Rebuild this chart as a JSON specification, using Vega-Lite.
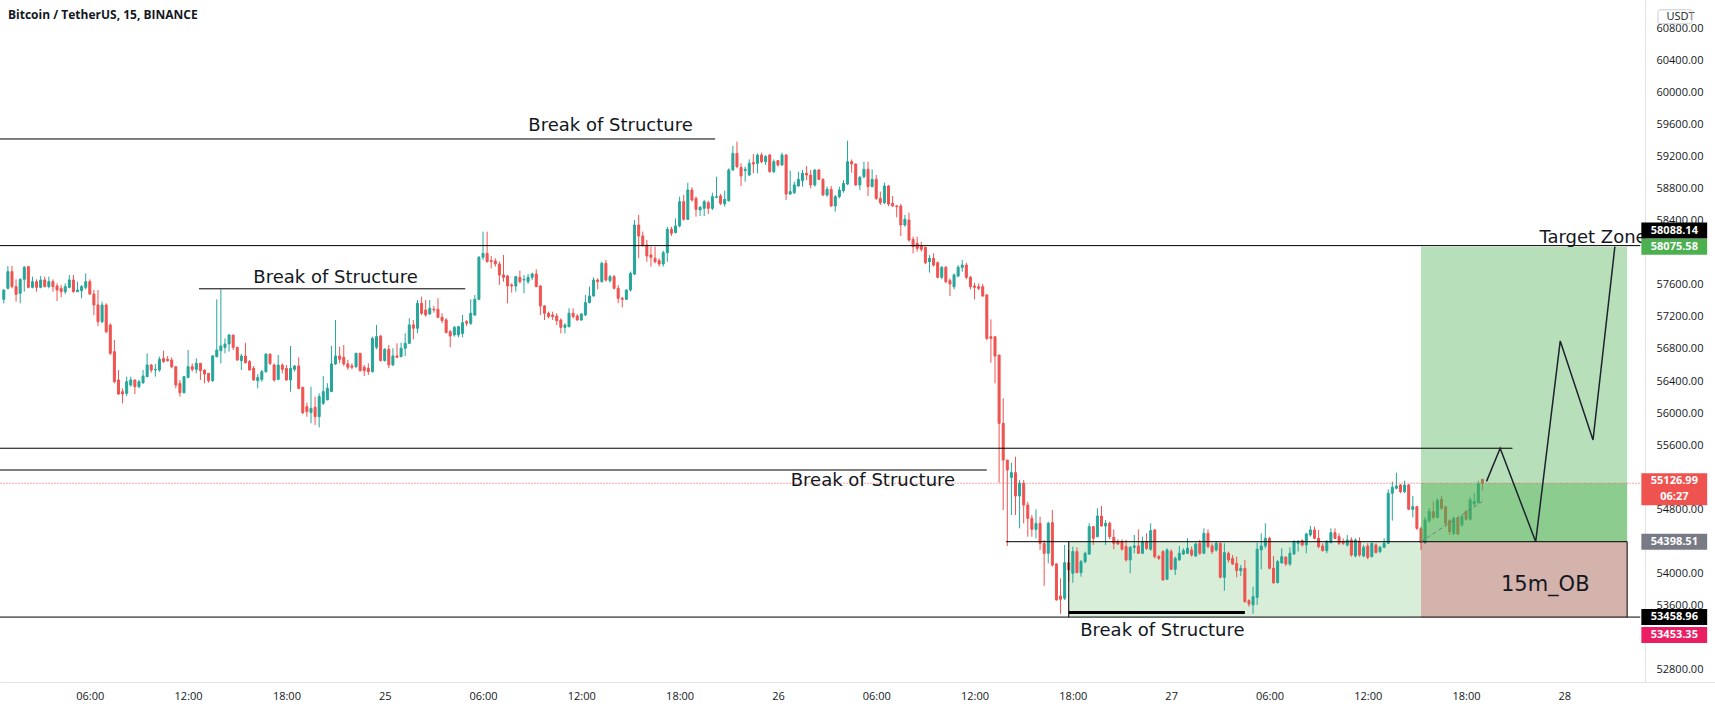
{
"$schema": "https://vega.github.io/schema/vega-lite/v6.json",
"width": 1715, "height": 682, "autosize": "none",
"padding": {"left": 0, "top": 0, "right": 0, "bottom": 30},
"background": "#ffffff",
"config": {"view": {"stroke": null}},
"title": {"text": "Bitcoin / TetherUS, 15, BINANCE", "anchor": "start", "frame": "group", "offset": -22, "dx": 8, "font": "Open Sans", "fontSize": 12, "fontWeight": "bold", "color": "#131722"},
"datasets": {
"candles": [
{"t":"2021-11-24 00:45","o":57419,"h":57543,"l":57369,"c":57535},
{"t":"2021-11-24 01:00","o":57556,"h":57834,"l":57543,"c":57764},
{"t":"2021-11-24 01:15","o":57764,"h":57834,"l":57556,"c":57577},
{"t":"2021-11-24 01:30","o":57577,"h":57668,"l":57390,"c":57481},
{"t":"2021-11-24 01:45","o":57494,"h":57680,"l":57369,"c":57668},
{"t":"2021-11-24 02:00","o":57668,"h":57834,"l":57514,"c":57817},
{"t":"2021-11-24 02:15","o":57826,"h":57834,"l":57556,"c":57568},
{"t":"2021-11-24 02:30","o":57568,"h":57701,"l":57556,"c":57639},
{"t":"2021-11-24 02:45","o":57639,"h":57668,"l":57514,"c":57568},
{"t":"2021-11-24 03:00","o":57568,"h":57709,"l":57556,"c":57660},
{"t":"2021-11-24 03:15","o":57660,"h":57701,"l":57568,"c":57577},
{"t":"2021-11-24 03:30","o":57577,"h":57701,"l":57556,"c":57639},
{"t":"2021-11-24 03:45","o":57639,"h":57668,"l":57514,"c":57577},
{"t":"2021-11-24 04:00","o":57585,"h":57618,"l":57398,"c":57535},
{"t":"2021-11-24 04:15","o":57556,"h":57597,"l":57444,"c":57514},
{"t":"2021-11-24 04:30","o":57514,"h":57618,"l":57485,"c":57577},
{"t":"2021-11-24 04:45","o":57568,"h":57722,"l":57556,"c":57660},
{"t":"2021-11-24 05:00","o":57660,"h":57722,"l":57502,"c":57514},
{"t":"2021-11-24 05:15","o":57514,"h":57639,"l":57514,"c":57535},
{"t":"2021-11-24 05:30","o":57527,"h":57597,"l":57431,"c":57577},
{"t":"2021-11-24 05:45","o":57568,"h":57743,"l":57543,"c":57639},
{"t":"2021-11-24 06:00","o":57639,"h":57668,"l":57473,"c":57485},
{"t":"2021-11-24 06:15","o":57485,"h":57535,"l":57223,"c":57348},
{"t":"2021-11-24 06:30","o":57348,"h":57535,"l":57086,"c":57140},
{"t":"2021-11-24 06:45","o":57140,"h":57390,"l":57120,"c":57348},
{"t":"2021-11-24 07:00","o":57348,"h":57369,"l":56995,"c":57016},
{"t":"2021-11-24 07:15","o":57099,"h":57120,"l":56725,"c":56746},
{"t":"2021-11-24 07:30","o":56766,"h":56912,"l":56372,"c":56393},
{"t":"2021-11-24 07:45","o":56414,"h":56538,"l":56227,"c":56239},
{"t":"2021-11-24 08:00","o":56268,"h":56310,"l":56123,"c":56239},
{"t":"2021-11-24 08:15","o":56247,"h":56455,"l":56214,"c":56393},
{"t":"2021-11-24 08:30","o":56351,"h":56455,"l":56330,"c":56414},
{"t":"2021-11-24 08:45","o":56414,"h":56414,"l":56239,"c":56330},
{"t":"2021-11-24 09:00","o":56330,"h":56414,"l":56310,"c":56393},
{"t":"2021-11-24 09:15","o":56380,"h":56538,"l":56364,"c":56463},
{"t":"2021-11-24 09:30","o":56455,"h":56746,"l":56447,"c":56600},
{"t":"2021-11-24 09:45","o":56600,"h":56613,"l":56505,"c":56538},
{"t":"2021-11-24 10:00","o":56538,"h":56613,"l":56455,"c":56546},
{"t":"2021-11-24 10:15","o":56538,"h":56704,"l":56517,"c":56671},
{"t":"2021-11-24 10:30","o":56683,"h":56779,"l":56629,"c":56642},
{"t":"2021-11-24 10:45","o":56671,"h":56712,"l":56642,"c":56654},
{"t":"2021-11-24 11:00","o":56662,"h":56696,"l":56559,"c":56579},
{"t":"2021-11-24 11:15","o":56579,"h":56579,"l":56309,"c":56351},
{"t":"2021-11-24 11:30","o":56372,"h":56413,"l":56206,"c":56255},
{"t":"2021-11-24 11:45","o":56255,"h":56463,"l":56247,"c":56455},
{"t":"2021-11-24 12:00","o":56446,"h":56787,"l":56434,"c":56579},
{"t":"2021-11-24 12:15","o":56579,"h":56621,"l":56517,"c":56546},
{"t":"2021-11-24 12:30","o":56546,"h":56683,"l":56496,"c":56621},
{"t":"2021-11-24 12:45","o":56621,"h":56621,"l":56413,"c":56530},
{"t":"2021-11-24 13:00","o":56538,"h":56546,"l":56372,"c":56488},
{"t":"2021-11-24 13:15","o":56496,"h":56496,"l":56380,"c":56405},
{"t":"2021-11-24 13:30","o":56405,"h":56725,"l":56392,"c":56712},
{"t":"2021-11-24 13:45","o":56704,"h":57418,"l":56696,"c":56787},
{"t":"2021-11-24 14:00","o":56779,"h":57543,"l":56621,"c":56837},
{"t":"2021-11-24 14:15","o":56820,"h":56932,"l":56746,"c":56862},
{"t":"2021-11-24 14:30","o":56862,"h":56986,"l":56766,"c":56974},
{"t":"2021-11-24 14:45","o":56974,"h":56974,"l":56787,"c":56820},
{"t":"2021-11-24 15:00","o":56820,"h":56829,"l":56654,"c":56662},
{"t":"2021-11-24 15:15","o":56654,"h":56737,"l":56538,"c":56712},
{"t":"2021-11-24 15:30","o":56712,"h":56878,"l":56621,"c":56629},
{"t":"2021-11-24 15:45","o":56642,"h":56662,"l":56530,"c":56538},
{"t":"2021-11-24 16:00","o":56559,"h":56588,"l":56405,"c":56413},
{"t":"2021-11-24 16:15","o":56405,"h":56488,"l":56309,"c":56446},
{"t":"2021-11-24 16:30","o":56421,"h":56538,"l":56392,"c":56517},
{"t":"2021-11-24 16:45","o":56517,"h":56746,"l":56505,"c":56737},
{"t":"2021-11-24 17:00","o":56737,"h":56737,"l":56600,"c":56621},
{"t":"2021-11-24 17:15","o":56600,"h":56621,"l":56392,"c":56413},
{"t":"2021-11-24 17:30","o":56421,"h":56725,"l":56413,"c":56600},
{"t":"2021-11-24 17:45","o":56600,"h":56621,"l":56496,"c":56546},
{"t":"2021-11-24 18:00","o":56559,"h":56600,"l":56405,"c":56413},
{"t":"2021-11-24 18:15","o":56413,"h":56837,"l":56268,"c":56559},
{"t":"2021-11-24 18:30","o":56546,"h":56600,"l":56517,"c":56588},
{"t":"2021-11-24 18:45","o":56588,"h":56696,"l":56297,"c":56309},
{"t":"2021-11-24 19:00","o":56322,"h":56330,"l":55989,"c":56006},
{"t":"2021-11-24 19:15","o":56081,"h":56131,"l":55956,"c":56019},
{"t":"2021-11-24 19:30","o":56007,"h":56331,"l":55874,"c":56061},
{"t":"2021-11-24 19:45","o":56074,"h":56206,"l":55853,"c":55957},
{"t":"2021-11-24 20:00","o":55957,"h":56248,"l":55824,"c":56206},
{"t":"2021-11-24 20:15","o":56123,"h":56464,"l":56103,"c":56269},
{"t":"2021-11-24 20:30","o":56165,"h":56373,"l":56165,"c":56310},
{"t":"2021-11-24 20:45","o":56269,"h":56838,"l":56269,"c":56614},
{"t":"2021-11-24 21:00","o":56614,"h":57162,"l":56601,"c":56713},
{"t":"2021-11-24 21:15","o":56713,"h":56829,"l":56622,"c":56672},
{"t":"2021-11-24 21:30","o":56697,"h":56850,"l":56589,"c":56614},
{"t":"2021-11-24 21:45","o":56614,"h":56664,"l":56539,"c":56572},
{"t":"2021-11-24 22:00","o":56589,"h":56622,"l":56547,"c":56572},
{"t":"2021-11-24 22:15","o":56580,"h":56755,"l":56560,"c":56746},
{"t":"2021-11-24 22:30","o":56746,"h":56746,"l":56518,"c":56530},
{"t":"2021-11-24 22:45","o":56572,"h":56601,"l":56464,"c":56530},
{"t":"2021-11-24 23:00","o":56560,"h":56622,"l":56477,"c":56518},
{"t":"2021-11-24 23:15","o":56518,"h":56954,"l":56506,"c":56933},
{"t":"2021-11-24 23:30","o":56821,"h":57100,"l":56796,"c":56954},
{"t":"2021-11-24 23:45","o":56962,"h":56975,"l":56643,"c":56655},
{"t":"2021-11-25 00:00","o":56655,"h":56809,"l":56643,"c":56796},
{"t":"2021-11-25 00:15","o":56796,"h":56850,"l":56560,"c":56601},
{"t":"2021-11-25 00:30","o":56601,"h":56809,"l":56589,"c":56713},
{"t":"2021-11-25 00:45","o":56713,"h":56871,"l":56684,"c":56697},
{"t":"2021-11-25 01:00","o":56705,"h":56879,"l":56697,"c":56809},
{"t":"2021-11-25 01:15","o":56809,"h":56996,"l":56713,"c":56871},
{"t":"2021-11-25 01:30","o":56871,"h":57183,"l":56863,"c":57100},
{"t":"2021-11-25 01:45","o":57100,"h":57162,"l":56921,"c":57058},
{"t":"2021-11-25 02:00","o":57058,"h":57411,"l":56996,"c":57370},
{"t":"2021-11-25 02:15","o":57370,"h":57453,"l":57224,"c":57245},
{"t":"2021-11-25 02:30","o":57286,"h":57411,"l":57203,"c":57224},
{"t":"2021-11-25 02:45","o":57237,"h":57411,"l":57224,"c":57307},
{"t":"2021-11-25 03:00","o":57295,"h":57336,"l":57253,"c":57286},
{"t":"2021-11-25 03:15","o":57295,"h":57432,"l":57183,"c":57195},
{"t":"2021-11-25 03:30","o":57195,"h":57245,"l":57120,"c":57154},
{"t":"2021-11-25 03:45","o":57162,"h":57183,"l":56996,"c":57004},
{"t":"2021-11-25 04:00","o":57016,"h":57037,"l":56821,"c":56962},
{"t":"2021-11-25 04:15","o":56975,"h":57087,"l":56954,"c":57070},
{"t":"2021-11-25 04:30","o":56975,"h":57087,"l":56946,"c":57078},
{"t":"2021-11-25 04:45","o":56995,"h":57224,"l":56946,"c":57128},
{"t":"2021-11-25 05:00","o":57141,"h":57161,"l":57087,"c":57120},
{"t":"2021-11-25 05:15","o":57120,"h":57419,"l":57099,"c":57245},
{"t":"2021-11-25 05:30","o":57224,"h":57473,"l":57211,"c":57419},
{"t":"2021-11-25 05:45","o":57419,"h":57959,"l":57411,"c":57943},
{"t":"2021-11-25 06:00","o":57943,"h":58262,"l":57909,"c":57992},
{"t":"2021-11-25 06:15","o":57992,"h":58262,"l":57876,"c":57889},
{"t":"2021-11-25 06:30","o":57901,"h":57959,"l":57805,"c":57889},
{"t":"2021-11-25 06:45","o":57897,"h":57930,"l":57826,"c":57859},
{"t":"2021-11-25 07:00","o":57859,"h":57889,"l":57598,"c":57722},
{"t":"2021-11-25 07:15","o":57722,"h":57972,"l":57639,"c":57693},
{"t":"2021-11-25 07:30","o":57710,"h":57722,"l":57369,"c":57585},
{"t":"2021-11-25 07:45","o":57598,"h":57618,"l":57502,"c":57585},
{"t":"2021-11-25 08:00","o":57585,"h":57710,"l":57515,"c":57702},
{"t":"2021-11-25 08:15","o":57693,"h":57776,"l":57618,"c":57639},
{"t":"2021-11-25 08:30","o":57660,"h":57722,"l":57494,"c":57668},
{"t":"2021-11-25 08:45","o":57639,"h":57735,"l":57610,"c":57693},
{"t":"2021-11-25 09:00","o":57693,"h":57751,"l":57660,"c":57735},
{"t":"2021-11-25 09:15","o":57735,"h":57793,"l":57569,"c":57577},
{"t":"2021-11-25 09:30","o":57585,"h":57598,"l":57224,"c":57336},
{"t":"2021-11-25 09:45","o":57336,"h":57349,"l":57161,"c":57245},
{"t":"2021-11-25 10:00","o":57245,"h":57265,"l":57182,"c":57203},
{"t":"2021-11-25 10:15","o":57224,"h":57265,"l":57161,"c":57203},
{"t":"2021-11-25 10:30","o":57211,"h":57245,"l":57099,"c":57153},
{"t":"2021-11-25 10:45","o":57161,"h":57182,"l":56995,"c":57070},
{"t":"2021-11-25 11:00","o":57070,"h":57120,"l":56995,"c":57099},
{"t":"2021-11-25 11:15","o":57078,"h":57307,"l":57070,"c":57245},
{"t":"2021-11-25 11:30","o":57245,"h":57307,"l":57182,"c":57203},
{"t":"2021-11-25 11:45","o":57211,"h":57236,"l":57153,"c":57161},
{"t":"2021-11-25 12:00","o":57161,"h":57245,"l":57153,"c":57236},
{"t":"2021-11-25 12:15","o":57224,"h":57473,"l":57211,"c":57378},
{"t":"2021-11-25 12:30","o":57378,"h":57577,"l":57369,"c":57461},
{"t":"2021-11-25 12:45","o":57461,"h":57693,"l":57452,"c":57660},
{"t":"2021-11-25 13:00","o":57660,"h":57681,"l":57544,"c":57639},
{"t":"2021-11-25 13:15","o":57639,"h":57889,"l":57627,"c":57868},
{"t":"2021-11-25 13:30","o":57868,"h":57909,"l":57639,"c":57660},
{"t":"2021-11-25 13:45","o":57651,"h":57722,"l":57627,"c":57701},
{"t":"2021-11-25 14:00","o":57701,"h":57722,"l":57543,"c":57556},
{"t":"2021-11-25 14:15","o":57556,"h":57597,"l":57369,"c":57431},
{"t":"2021-11-25 14:30","o":57431,"h":57452,"l":57319,"c":57419},
{"t":"2021-11-25 14:45","o":57419,"h":57543,"l":57410,"c":57535},
{"t":"2021-11-25 15:00","o":57535,"h":57764,"l":57514,"c":57743},
{"t":"2021-11-25 15:15","o":57734,"h":58407,"l":57722,"c":58345},
{"t":"2021-11-25 15:30","o":58345,"h":58470,"l":57930,"c":58208},
{"t":"2021-11-25 15:45","o":58208,"h":58262,"l":58075,"c":58096},
{"t":"2021-11-25 16:00","o":58096,"h":58158,"l":57888,"c":57959},
{"t":"2021-11-25 16:15","o":57971,"h":58075,"l":57826,"c":57942},
{"t":"2021-11-25 16:30","o":57930,"h":58075,"l":57867,"c":57888},
{"t":"2021-11-25 16:45","o":57901,"h":57930,"l":57826,"c":57859},
{"t":"2021-11-25 17:00","o":57859,"h":58025,"l":57826,"c":58000},
{"t":"2021-11-25 17:15","o":58000,"h":58324,"l":57888,"c":58291},
{"t":"2021-11-25 17:30","o":58291,"h":58324,"l":58208,"c":58241},
{"t":"2021-11-25 17:45","o":58250,"h":58428,"l":58241,"c":58333},
{"t":"2021-11-25 18:00","o":58333,"h":58698,"l":58316,"c":58636},
{"t":"2021-11-25 18:15","o":58636,"h":58719,"l":58399,"c":58416},
{"t":"2021-11-25 18:30","o":58416,"h":58873,"l":58407,"c":58781},
{"t":"2021-11-25 18:45","o":58781,"h":58815,"l":58636,"c":58657},
{"t":"2021-11-25 19:00","o":58677,"h":58698,"l":58449,"c":58540},
{"t":"2021-11-25 19:15","o":58532,"h":58582,"l":58457,"c":58565},
{"t":"2021-11-25 19:30","o":58553,"h":58657,"l":58457,"c":58636},
{"t":"2021-11-25 19:45","o":58623,"h":58648,"l":58482,"c":58553},
{"t":"2021-11-25 20:00","o":58553,"h":58748,"l":58532,"c":58698},
{"t":"2021-11-25 20:15","o":58690,"h":58947,"l":58677,"c":58698},
{"t":"2021-11-25 20:30","o":58707,"h":58731,"l":58594,"c":58615},
{"t":"2021-11-25 20:45","o":58607,"h":58773,"l":58574,"c":58665},
{"t":"2021-11-25 21:00","o":58648,"h":59051,"l":58636,"c":59031},
{"t":"2021-11-25 21:15","o":59031,"h":59330,"l":59022,"c":59238},
{"t":"2021-11-25 21:30","o":59238,"h":59384,"l":59051,"c":59072},
{"t":"2021-11-25 21:45","o":59064,"h":59114,"l":58831,"c":58956},
{"t":"2021-11-25 22:00","o":59022,"h":59072,"l":58885,"c":59039},
{"t":"2021-11-25 22:15","o":58968,"h":59163,"l":58956,"c":59114},
{"t":"2021-11-25 22:30","o":59122,"h":59230,"l":58989,"c":59105},
{"t":"2021-11-25 22:45","o":59114,"h":59238,"l":58989,"c":59217},
{"t":"2021-11-25 23:00","o":59217,"h":59247,"l":59114,"c":59134},
{"t":"2021-11-25 23:15","o":59134,"h":59217,"l":59093,"c":59197},
{"t":"2021-11-25 23:30","o":59217,"h":59230,"l":58997,"c":59010},
{"t":"2021-11-25 23:45","o":59010,"h":59163,"l":58989,"c":59134},
{"t":"2021-11-26 00:00","o":59147,"h":59155,"l":59072,"c":59093},
{"t":"2021-11-26 00:15","o":59093,"h":59247,"l":59080,"c":59217},
{"t":"2021-11-26 00:30","o":59217,"h":59230,"l":58657,"c":58731},
{"t":"2021-11-26 00:45","o":58731,"h":59022,"l":58719,"c":58761},
{"t":"2021-11-26 01:00","o":58748,"h":58885,"l":58731,"c":58844},
{"t":"2021-11-26 01:15","o":58831,"h":59010,"l":58823,"c":58914},
{"t":"2021-11-26 01:30","o":58898,"h":59031,"l":58823,"c":58989},
{"t":"2021-11-26 01:45","o":58989,"h":59080,"l":58906,"c":58968},
{"t":"2021-11-26 02:00","o":58968,"h":59031,"l":58802,"c":58844},
{"t":"2021-11-26 02:15","o":58844,"h":59039,"l":58823,"c":59031},
{"t":"2021-11-26 02:30","o":59031,"h":59039,"l":58906,"c":58914},
{"t":"2021-11-26 02:45","o":58914,"h":58927,"l":58707,"c":58719},
{"t":"2021-11-26 03:00","o":58719,"h":58823,"l":58698,"c":58790},
{"t":"2021-11-26 03:15","o":58790,"h":58831,"l":58574,"c":58582},
{"t":"2021-11-26 03:30","o":58582,"h":58719,"l":58511,"c":58698},
{"t":"2021-11-26 03:45","o":58698,"h":58823,"l":58677,"c":58781},
{"t":"2021-11-26 04:00","o":58773,"h":58906,"l":58748,"c":58864},
{"t":"2021-11-26 04:15","o":58856,"h":59396,"l":58844,"c":59134},
{"t":"2021-11-26 04:30","o":59134,"h":59163,"l":58997,"c":59105},
{"t":"2021-11-26 04:45","o":59105,"h":59114,"l":58831,"c":58844},
{"t":"2021-11-26 05:00","o":58844,"h":58956,"l":58781,"c":58939},
{"t":"2021-11-26 05:15","o":58947,"h":59134,"l":58927,"c":59039},
{"t":"2021-11-26 05:30","o":59039,"h":59134,"l":58707,"c":58823},
{"t":"2021-11-26 05:45","o":58823,"h":59039,"l":58815,"c":58914},
{"t":"2021-11-26 06:00","o":58914,"h":58968,"l":58657,"c":58677},
{"t":"2021-11-26 06:15","o":58677,"h":58761,"l":58594,"c":58623},
{"t":"2021-11-26 06:30","o":58623,"h":58873,"l":58607,"c":58831},
{"t":"2021-11-26 06:45","o":58831,"h":58844,"l":58582,"c":58607},
{"t":"2021-11-26 07:00","o":58615,"h":58707,"l":58574,"c":58582},
{"t":"2021-11-26 07:15","o":58582,"h":58594,"l":58441,"c":58574},
{"t":"2021-11-26 07:30","o":58582,"h":58607,"l":58208,"c":58345},
{"t":"2021-11-26 07:45","o":58345,"h":58470,"l":58324,"c":58416},
{"t":"2021-11-26 08:00","o":58407,"h":58499,"l":58137,"c":58158},
{"t":"2021-11-26 08:15","o":58166,"h":58199,"l":57992,"c":58075},
{"t":"2021-11-26 08:30","o":58116,"h":58199,"l":58013,"c":58054},
{"t":"2021-11-26 08:45","o":58083,"h":58137,"l":58013,"c":58042},
{"t":"2021-11-26 09:00","o":58067,"h":58075,"l":57859,"c":57875},
{"t":"2021-11-26 09:15","o":57888,"h":57971,"l":57751,"c":57929},
{"t":"2021-11-26 09:30","o":57929,"h":57992,"l":57826,"c":57846},
{"t":"2021-11-26 09:45","o":57875,"h":57888,"l":57680,"c":57693},
{"t":"2021-11-26 10:00","o":57693,"h":57834,"l":57668,"c":57817},
{"t":"2021-11-26 10:15","o":57817,"h":57834,"l":57618,"c":57639},
{"t":"2021-11-26 10:30","o":57651,"h":57680,"l":57460,"c":57610},
{"t":"2021-11-26 10:45","o":57576,"h":57742,"l":57543,"c":57722},
{"t":"2021-11-26 11:00","o":57709,"h":57846,"l":57693,"c":57817},
{"t":"2021-11-26 11:15","o":57817,"h":57909,"l":57763,"c":57846},
{"t":"2021-11-26 11:30","o":57846,"h":57875,"l":57668,"c":57693},
{"t":"2021-11-26 11:45","o":57693,"h":57709,"l":57543,"c":57576},
{"t":"2021-11-26 12:00","o":57585,"h":57626,"l":57418,"c":57568},
{"t":"2021-11-26 12:15","o":57576,"h":57618,"l":57535,"c":57556},
{"t":"2021-11-26 12:30","o":57576,"h":57610,"l":57452,"c":57460},
{"t":"2021-11-26 12:45","o":57472,"h":57485,"l":56912,"c":56932},
{"t":"2021-11-26 13:00","o":56953,"h":57169,"l":56629,"c":56932},
{"t":"2021-11-26 13:15","o":56953,"h":56953,"l":56372,"c":56712},
{"t":"2021-11-26 13:30","o":56725,"h":56725,"l":55134,"c":55873},
{"t":"2021-11-26 13:45","o":55873,"h":56185,"l":54793,"c":55416},
{"t":"2021-11-26 14:00","o":55416,"h":55416,"l":54345,"c":55292},
{"t":"2021-11-26 14:15","o":55200,"h":55383,"l":54731,"c":55259},
{"t":"2021-11-26 14:30","o":55259,"h":55458,"l":54731,"c":54968},
{"t":"2021-11-26 14:45","o":54968,"h":55167,"l":54565,"c":55126},
{"t":"2021-11-26 15:00","o":55126,"h":55167,"l":54627,"c":54855},
{"t":"2021-11-26 15:15","o":54855,"h":54897,"l":54461,"c":54689},
{"t":"2021-11-26 15:30","o":54689,"h":54731,"l":54461,"c":54552},
{"t":"2021-11-26 15:45","o":54552,"h":54801,"l":54440,"c":54627},
{"t":"2021-11-26 16:00","o":54627,"h":54710,"l":54295,"c":54378},
{"t":"2021-11-26 16:15","o":54378,"h":54420,"l":53847,"c":54254},
{"t":"2021-11-26 16:30","o":54254,"h":54648,"l":54129,"c":54628},
{"t":"2021-11-26 16:45","o":54636,"h":54794,"l":54088,"c":54108},
{"t":"2021-11-26 17:00","o":54121,"h":54129,"l":53664,"c":53672},
{"t":"2021-11-26 17:15","o":53722,"h":53942,"l":53498,"c":53680},
{"t":"2021-11-26 17:30","o":53693,"h":54358,"l":53672,"c":54137},
{"t":"2021-11-26 17:45","o":54137,"h":54295,"l":53901,"c":54046},
{"t":"2021-11-26 18:00","o":54005,"h":54337,"l":53888,"c":54275},
{"t":"2021-11-26 18:15","o":54275,"h":54328,"l":54005,"c":54013},
{"t":"2021-11-26 18:30","o":54013,"h":54171,"l":53963,"c":54150},
{"t":"2021-11-26 18:45","o":54150,"h":54275,"l":54129,"c":54254},
{"t":"2021-11-26 19:00","o":54245,"h":54628,"l":54233,"c":54586},
{"t":"2021-11-26 19:15","o":54586,"h":54594,"l":54358,"c":54441},
{"t":"2021-11-26 19:30","o":54461,"h":54815,"l":54453,"c":54719},
{"t":"2021-11-26 19:45","o":54719,"h":54844,"l":54586,"c":54594},
{"t":"2021-11-26 20:00","o":54594,"h":54669,"l":54358,"c":54628},
{"t":"2021-11-26 20:15","o":54628,"h":54648,"l":54428,"c":54461},
{"t":"2021-11-26 20:30","o":54453,"h":54553,"l":54304,"c":54378},
{"t":"2021-11-26 20:45","o":54399,"h":54428,"l":54358,"c":54370},
{"t":"2021-11-26 21:00","o":54399,"h":54428,"l":54287,"c":54304},
{"t":"2021-11-26 21:15","o":54337,"h":54420,"l":54150,"c":54171},
{"t":"2021-11-26 21:30","o":54171,"h":54345,"l":54005,"c":54328},
{"t":"2021-11-26 21:45","o":54328,"h":54482,"l":54254,"c":54345},
{"t":"2021-11-26 22:00","o":54345,"h":54553,"l":54245,"c":54254},
{"t":"2021-11-26 22:15","o":54254,"h":54461,"l":54245,"c":54399},
{"t":"2021-11-26 22:30","o":54399,"h":54503,"l":54295,"c":54316},
{"t":"2021-11-26 22:45","o":54304,"h":54628,"l":54287,"c":54536},
{"t":"2021-11-26 23:00","o":54545,"h":54553,"l":54191,"c":54212},
{"t":"2021-11-26 23:15","o":54212,"h":54233,"l":54171,"c":54191},
{"t":"2021-11-26 23:30","o":54275,"h":54295,"l":53913,"c":53921},
{"t":"2021-11-26 23:45","o":53930,"h":54316,"l":53921,"c":54295},
{"t":"2021-11-27 00:00","o":54275,"h":54304,"l":54046,"c":54054},
{"t":"2021-11-27 00:15","o":54054,"h":54212,"l":53984,"c":54191},
{"t":"2021-11-27 00:30","o":54171,"h":54345,"l":54162,"c":54254},
{"t":"2021-11-27 00:45","o":54245,"h":54316,"l":54233,"c":54287},
{"t":"2021-11-27 01:00","o":54254,"h":54441,"l":54245,"c":54316},
{"t":"2021-11-27 01:15","o":54295,"h":54337,"l":54212,"c":54233},
{"t":"2021-11-27 01:30","o":54220,"h":54387,"l":54212,"c":54370},
{"t":"2021-11-27 01:45","o":54378,"h":54420,"l":54233,"c":54254},
{"t":"2021-11-27 02:00","o":54254,"h":54565,"l":54245,"c":54503},
{"t":"2021-11-27 02:15","o":54503,"h":54553,"l":54316,"c":54337},
{"t":"2021-11-27 02:30","o":54345,"h":54378,"l":54245,"c":54275},
{"t":"2021-11-27 02:45","o":54295,"h":54399,"l":54275,"c":54378},
{"t":"2021-11-27 03:00","o":54378,"h":54387,"l":53942,"c":53955},
{"t":"2021-11-27 03:15","o":53955,"h":54378,"l":53789,"c":54262},
{"t":"2021-11-27 03:30","o":54254,"h":54275,"l":54137,"c":54171},
{"t":"2021-11-27 03:45","o":54191,"h":54233,"l":54108,"c":54121},
{"t":"2021-11-27 04:00","o":54129,"h":54212,"l":53955,"c":54038},
{"t":"2021-11-27 04:15","o":54038,"h":54108,"l":53971,"c":54067},
{"t":"2021-11-27 04:30","o":54067,"h":54171,"l":53639,"c":53651},
{"t":"2021-11-27 04:45","o":53664,"h":53680,"l":53589,"c":53622},
{"t":"2021-11-27 05:00","o":53610,"h":53838,"l":53498,"c":53714},
{"t":"2021-11-27 05:15","o":53705,"h":54387,"l":53610,"c":54304},
{"t":"2021-11-27 05:30","o":54295,"h":54503,"l":54054,"c":54345},
{"t":"2021-11-27 05:45","o":54345,"h":54628,"l":54316,"c":54441},
{"t":"2021-11-27 06:00","o":54441,"h":54461,"l":54054,"c":54067},
{"t":"2021-11-27 06:15","o":54067,"h":54220,"l":53872,"c":53888},
{"t":"2021-11-27 06:30","o":53888,"h":54171,"l":53880,"c":54150},
{"t":"2021-11-27 06:45","o":54137,"h":54316,"l":54121,"c":54212},
{"t":"2021-11-27 07:00","o":54204,"h":54220,"l":54096,"c":54121},
{"t":"2021-11-27 07:15","o":54121,"h":54328,"l":54096,"c":54254},
{"t":"2021-11-27 07:30","o":54245,"h":54420,"l":54233,"c":54399},
{"t":"2021-11-27 07:45","o":54378,"h":54420,"l":54275,"c":54399},
{"t":"2021-11-27 08:00","o":54412,"h":54428,"l":54337,"c":54358},
{"t":"2021-11-27 08:15","o":54358,"h":54511,"l":54254,"c":54495},
{"t":"2021-11-27 08:30","o":54482,"h":54594,"l":54461,"c":54545},
{"t":"2021-11-27 08:45","o":54545,"h":54586,"l":54428,"c":54441},
{"t":"2021-11-27 09:00","o":54441,"h":54545,"l":54316,"c":54337},
{"t":"2021-11-27 09:15","o":54345,"h":54378,"l":54275,"c":54287},
{"t":"2021-11-27 09:30","o":54287,"h":54420,"l":54254,"c":54399},
{"t":"2021-11-27 09:45","o":54387,"h":54565,"l":54378,"c":54511},
{"t":"2021-11-27 10:00","o":54511,"h":54565,"l":54428,"c":54441},
{"t":"2021-11-27 10:15","o":54461,"h":54503,"l":54358,"c":54378},
{"t":"2021-11-27 10:30","o":54399,"h":54441,"l":54358,"c":54379},
{"t":"2021-11-27 10:45","o":54358,"h":54482,"l":54337,"c":54420},
{"t":"2021-11-27 11:00","o":54420,"h":54453,"l":54212,"c":54233},
{"t":"2021-11-27 11:15","o":54221,"h":54441,"l":54204,"c":54420},
{"t":"2021-11-27 11:30","o":54399,"h":54453,"l":54212,"c":54233},
{"t":"2021-11-27 11:45","o":54221,"h":54358,"l":54204,"c":54329},
{"t":"2021-11-27 12:00","o":54345,"h":54379,"l":54179,"c":54204},
{"t":"2021-11-27 12:15","o":54212,"h":54387,"l":54204,"c":54379},
{"t":"2021-11-27 12:30","o":54358,"h":54379,"l":54254,"c":54262},
{"t":"2021-11-27 12:45","o":54275,"h":54345,"l":54254,"c":54329},
{"t":"2021-11-27 13:00","o":54329,"h":54441,"l":54316,"c":54379},
{"t":"2021-11-27 13:15","o":54379,"h":55051,"l":54370,"c":55002},
{"t":"2021-11-27 13:30","o":55002,"h":55147,"l":54661,"c":55076},
{"t":"2021-11-27 13:45","o":55064,"h":55259,"l":55051,"c":55093},
{"t":"2021-11-27 14:00","o":55105,"h":55118,"l":55002,"c":55022},
{"t":"2021-11-27 14:15","o":55022,"h":55159,"l":55002,"c":55105},
{"t":"2021-11-27 14:30","o":55105,"h":55118,"l":54794,"c":54802},
{"t":"2021-11-27 14:45","o":54802,"h":54968,"l":54702,"c":54835},
{"t":"2021-11-27 15:00","o":54835,"h":54844,"l":54545,"c":54565},
{"t":"2021-11-27 15:15","o":54565,"h":54586,"l":54295,"c":54387},
{"t":"2021-11-27 15:30","o":54387,"h":54702,"l":54370,"c":54669},
{"t":"2021-11-27 15:45","o":54661,"h":54815,"l":54636,"c":54773},
{"t":"2021-11-27 16:00","o":54773,"h":54898,"l":54678,"c":54702},
{"t":"2021-11-27 16:15","o":54702,"h":54939,"l":54690,"c":54910},
{"t":"2021-11-27 16:30","o":54927,"h":54968,"l":54794,"c":54815},
{"t":"2021-11-27 16:45","o":54835,"h":54844,"l":54586,"c":54628},
{"t":"2021-11-27 17:00","o":54661,"h":54678,"l":54482,"c":54524},
{"t":"2021-11-27 17:15","o":54503,"h":54711,"l":54482,"c":54690},
{"t":"2021-11-27 17:30","o":54690,"h":54711,"l":54482,"c":54495},
{"t":"2021-11-27 17:45","o":54607,"h":54732,"l":54586,"c":54711},
{"t":"2021-11-27 18:00","o":54773,"h":54794,"l":54661,"c":54678},
{"t":"2021-11-27 18:15","o":54678,"h":54952,"l":54661,"c":54919},
{"t":"2021-11-27 18:30","o":54869,"h":55002,"l":54835,"c":54898},
{"t":"2021-11-27 18:45","o":54885,"h":55159,"l":54877,"c":55118},
{"t":"2021-11-27 19:00","o":55176,"h":55180,"l":55035,"c":55127}
],
"hlines": [
{"t":"2021-11-24 00:00","t2":"2021-11-25 20:10","p":59417},
{"t":"2021-11-24 12:40","t2":"2021-11-25 04:55","p":57550},
{"t":"2021-11-24 00:00","t2":"2021-11-27 20:50","p":55563},
{"t":"2021-11-24 00:00","t2":"2021-11-26 12:45","p":55292},
{"t":"2021-11-26 13:55","t2":"2021-11-28 03:50","p":54398.51},
{"t":"2021-11-24 00:00","t2":"2021-11-28 04:38","p":58088.14},
{"t":"2021-11-24 00:00","t2":"2021-11-28 04:38","p":53458.96}
],
"thick": [{"t":"2021-11-26 17:45","t2":"2021-11-27 04:30","p":53516}],
"lastline": [{"t":"2021-11-24 00:00","t2":"2021-11-28 04:38","p":55126.99}],
"vlines": [
{"t":"2021-11-26 17:45","p":53458.96,"p2":54398.51},
{"t":"2021-11-28 03:50","p":53458.96,"p2":54398.51}
],
"ob": [{"t":"2021-11-26 17:45","t2":"2021-11-27 15:15","p":53458.96,"p2":54398.51}],
"zones": [
{"t":"2021-11-27 15:15","t2":"2021-11-28 03:50","p":54398.51,"p2":58075.58,"kind":"profit"},
{"t":"2021-11-27 15:15","t2":"2021-11-28 03:50","p":54398.51,"p2":55126.99,"kind":"open"},
{"t":"2021-11-27 15:15","t2":"2021-11-28 03:50","p":53453.35,"p2":54398.51,"kind":"loss"}
],
"path": [
{"t":"2021-11-27 19:15","p":55150,"s":1},
{"t":"2021-11-27 20:05","p":55563,"s":2},
{"t":"2021-11-27 22:15","p":54398,"s":3},
{"t":"2021-11-27 23:45","p":56900,"s":4},
{"t":"2021-11-28 01:45","p":55666,"s":5},
{"t":"2021-11-28 03:05","p":58075,"s":6}
],
"entrypath": [
{"t":"2021-11-27 15:15","p":54398.51,"s":1},
{"t":"2021-11-27 19:00","p":54900,"s":2}
],
"notes": [
{"t":"2021-11-25 13:47","p":59585,"text":"Break of Structure"},
{"t":"2021-11-24 21:00","p":57685,"text":"Break of Structure"},
{"t":"2021-11-26 05:48","p":55149,"text":"Break of Structure"},
{"t":"2021-11-26 23:28","p":53280,"text":"Break of Structure"},
{"t":"2021-11-28 01:45","p":58189,"text":"Target Zone"}
],
"ob_label": [{"t":"2021-11-27 22:50","p":53865,"text":"15m_OB"}],
"tagbox": [
{"t":"2021-11-28 04:42","t2":"2021-11-28 08:43","p":58075.58,"label":"58075.58","kind":"target"},
{"t":"2021-11-28 04:42","t2":"2021-11-28 08:43","p":54398.51,"label":"54398.51","kind":"entry"},
{"t":"2021-11-28 04:42","t2":"2021-11-28 08:43","p":53458.96,"label":"53458.96","kind":"level"}
],
"tag_alert": [{"t":"2021-11-28 04:42","t2":"2021-11-28 08:43","p":58088.14,"label":"58088.14"}],
"tag_stop": [{"t":"2021-11-28 04:42","t2":"2021-11-28 08:43","p":53453.35,"label":"53453.35"}],
"tag_last": [{"t":"2021-11-28 04:42","t2":"2021-11-28 08:43","p":55126.99,"label":"55126.99","sub":"06:27"}],
"unit": [{"t":"2021-11-28 05:43","t2":"2021-11-28 07:47","p":60940}]
},
"encoding": {
"x": {"field": "t", "type": "temporal",
 "scale": {"type": "utc", "domain": [{"year":2021,"month":11,"date":24,"hours":0,"minutes":49,"seconds":26,"utc":true},{"year":2021,"month":11,"date":28,"hours":8,"minutes":53,"seconds":24,"utc":true}]},
 "axis": {"values": [
  {"year":2021,"month":11,"date":24,"hours":6,"utc":true},{"year":2021,"month":11,"date":24,"hours":12,"utc":true},{"year":2021,"month":11,"date":24,"hours":18,"utc":true},
  {"year":2021,"month":11,"date":25,"hours":0,"utc":true},{"year":2021,"month":11,"date":25,"hours":6,"utc":true},{"year":2021,"month":11,"date":25,"hours":12,"utc":true},{"year":2021,"month":11,"date":25,"hours":18,"utc":true},
  {"year":2021,"month":11,"date":26,"hours":0,"utc":true},{"year":2021,"month":11,"date":26,"hours":6,"utc":true},{"year":2021,"month":11,"date":26,"hours":12,"utc":true},{"year":2021,"month":11,"date":26,"hours":18,"utc":true},
  {"year":2021,"month":11,"date":27,"hours":0,"utc":true},{"year":2021,"month":11,"date":27,"hours":6,"utc":true},{"year":2021,"month":11,"date":27,"hours":12,"utc":true},{"year":2021,"month":11,"date":27,"hours":18,"utc":true},
  {"year":2021,"month":11,"date":28,"hours":0,"utc":true}],
  "labelExpr": "utchours(datum.value) == 0 ? utcFormat(datum.value, '%-d') : utcFormat(datum.value, '%H:%M')",
  "title": null, "ticks": false, "grid": false, "labelFont": "Open Sans", "labelFontSize": 11, "labelColor": "#131722", "labelPadding": 8, "domainColor": "#e0e3eb", "labelOverlap": false, "labelFlush": false}},
"y": {"field": "p", "type": "quantitative",
 "scale": {"domain": [52650, 61149], "zero": false, "nice": false},
 "axis": {"orient": "right", "offset": -70, "values": [52800,53600,54000,54800,55600,56000,56400,56800,57200,57600,58400,58800,59200,59600,60000,60400,60800],
  "format": ".2f", "title": "USDT", "titleAngle": 0, "titleX": 35, "titleY": 16, "titleAlign": "center", "titleBaseline": "middle", "titleFont": "Open Sans", "titleFontSize": 11, "titleFontWeight": "normal", "titleColor": "#131722",
  "ticks": false, "grid": false, "labelFont": "Open Sans", "labelFontSize": 11, "labelColor": "#131722", "labelPadding": 11, "domainColor": "#e0e3eb", "labelOverlap": false, "labelFlush": false}}
},
"layer": [
{"data": {"name": "ob", "format": {"parse": {"t": "utc:'%Y-%m-%d %H:%M'", "t2": "utc:'%Y-%m-%d %H:%M'"}}},
 "mark": {"type": "rect", "fill": "#d8eed9"},
 "encoding": {"x2": {"field": "t2"}, "y2": {"field": "p2"}}},
{"data": {"name": "candles", "format": {"parse": {"t": "utc:'%Y-%m-%d %H:%M'"}}},
 "layer": [
  {"mark": {"type": "rule", "strokeWidth": 1},
   "encoding": {"y": {"field": "l", "type": "quantitative",
     "axis": {"orient": "right", "offset": -70, "values": [52800,53600,54000,54800,55600,56000,56400,56800,57200,57600,58400,58800,59200,59600,60000,60400,60800],
      "format": ".2f", "title": "USDT", "titleAngle": 0, "titleX": 35, "titleY": 16, "titleAlign": "center", "titleBaseline": "middle", "titleFont": "Open Sans", "titleFontSize": 11, "titleFontWeight": "normal", "titleColor": "#131722",
      "ticks": false, "grid": false, "labelFont": "Open Sans", "labelFontSize": 11, "labelColor": "#131722", "labelPadding": 11, "domainColor": "#e0e3eb", "labelOverlap": false, "labelFlush": false}},
    "y2": {"field": "h"},
    "color": {"condition": {"test": "datum.c >= datum.o", "value": "#26a69a"}, "value": "#ef5350"}}},
  {"mark": {"type": "bar", "size": 2, "strokeWidth": 1},
   "encoding": {"y": {"field": "o", "type": "quantitative",
     "axis": {"orient": "right", "offset": -70, "values": [52800,53600,54000,54800,55600,56000,56400,56800,57200,57600,58400,58800,59200,59600,60000,60400,60800],
      "format": ".2f", "title": "USDT", "titleAngle": 0, "titleX": 35, "titleY": 16, "titleAlign": "center", "titleBaseline": "middle", "titleFont": "Open Sans", "titleFontSize": 11, "titleFontWeight": "normal", "titleColor": "#131722",
      "ticks": false, "grid": false, "labelFont": "Open Sans", "labelFontSize": 11, "labelColor": "#131722", "labelPadding": 11, "domainColor": "#e0e3eb", "labelOverlap": false, "labelFlush": false}},
    "y2": {"field": "c"},
    "fill": {"condition": {"test": "datum.c >= datum.o", "value": "#26a69a"}, "value": "#ef5350"},
    "stroke": {"condition": {"test": "datum.c >= datum.o", "value": "#26a69a"}, "value": "#ef5350"}}}
 ]},
{"data": {"name": "zones", "format": {"parse": {"t": "utc:'%Y-%m-%d %H:%M'", "t2": "utc:'%Y-%m-%d %H:%M'"}}},
 "mark": {"type": "rect", "opacity": 0.4},
 "encoding": {"x2": {"field": "t2"}, "y2": {"field": "p2"},
  "fill": {"field": "kind", "type": "nominal", "scale": {"domain": ["profit", "open", "loss"], "range": ["#4caf50", "#4caf50", "#94402f"]}, "legend": null}}},
{"data": {"name": "hlines", "format": {"parse": {"t": "utc:'%Y-%m-%d %H:%M'", "t2": "utc:'%Y-%m-%d %H:%M'"}}},
 "mark": {"type": "rule", "color": "#000000", "strokeWidth": 1, "clip": true},
 "encoding": {"x2": {"field": "t2"}}},
{"data": {"name": "thick", "format": {"parse": {"t": "utc:'%Y-%m-%d %H:%M'", "t2": "utc:'%Y-%m-%d %H:%M'"}}},
 "mark": {"type": "rule", "color": "#000000", "strokeWidth": 3},
 "encoding": {"x2": {"field": "t2"}}},
{"data": {"name": "lastline", "format": {"parse": {"t": "utc:'%Y-%m-%d %H:%M'", "t2": "utc:'%Y-%m-%d %H:%M'"}}},
 "mark": {"type": "rule", "color": "#ef5350", "strokeWidth": 1, "strokeDash": [1, 2], "clip": true},
 "encoding": {"x2": {"field": "t2"}}},
{"data": {"name": "vlines", "format": {"parse": {"t": "utc:'%Y-%m-%d %H:%M'"}}},
 "mark": {"type": "rule", "color": "#000000", "strokeWidth": 1},
 "encoding": {"y2": {"field": "p2"}}},
{"data": {"name": "entrypath", "format": {"parse": {"t": "utc:'%Y-%m-%d %H:%M'"}}},
 "mark": {"type": "line", "color": "#787b86", "strokeWidth": 1, "strokeDash": [4, 3]},
 "encoding": {"order": {"field": "s"}}},
{"data": {"name": "path", "format": {"parse": {"t": "utc:'%Y-%m-%d %H:%M'"}}},
 "mark": {"type": "line", "color": "#1e222d", "strokeWidth": 1.5},
 "encoding": {"order": {"field": "s"}}},
{"data": {"name": "notes", "format": {"parse": {"t": "utc:'%Y-%m-%d %H:%M'"}}},
 "mark": {"type": "text", "font": "DejaVu Sans", "fontSize": 18, "color": "#131722", "align": "center", "baseline": "middle"},
 "encoding": {"text": {"field": "text"}}},
{"data": {"name": "ob_label", "format": {"parse": {"t": "utc:'%Y-%m-%d %H:%M'"}}},
 "mark": {"type": "text", "font": "DejaVu Sans", "fontSize": 21, "color": "#131722", "align": "center", "baseline": "middle"},
 "encoding": {"text": {"field": "text"}}},
{"data": {"name": "unit", "format": {"parse": {"t": "utc:'%Y-%m-%d %H:%M'", "t2": "utc:'%Y-%m-%d %H:%M'"}}},
 "mark": {"type": "rect", "fillOpacity": 0, "stroke": "#c9cbd1", "strokeWidth": 1, "cornerRadius": 2, "yOffset": -7, "y2Offset": 7},
 "encoding": {"x2": {"field": "t2"}, "y2": {"field": "p"}}},
{"data": {"name": "tagbox", "format": {"parse": {"t": "utc:'%Y-%m-%d %H:%M'", "t2": "utc:'%Y-%m-%d %H:%M'"}}},
 "layer": [
  {"mark": {"type": "rect", "yOffset": -8, "y2Offset": 8},
   "encoding": {"x2": {"field": "t2"}, "y2": {"field": "p"},
    "color": {"field": "kind", "type": "nominal", "scale": {"domain": ["target","entry","level"], "range": ["#4caf50","#787b86","#000000"]}, "legend": null}}},
  {"mark": {"type": "text", "color": "#ffffff", "font": "Open Sans", "fontSize": 11, "fontWeight": "bold", "align": "center", "baseline": "middle", "dx": 33},
   "encoding": {"text": {"field": "label"}}}
 ]},
{"data": {"name": "tag_alert", "format": {"parse": {"t": "utc:'%Y-%m-%d %H:%M'", "t2": "utc:'%Y-%m-%d %H:%M'"}}},
 "layer": [
  {"mark": {"type": "rect", "fill": "#000000", "yOffset": -23, "y2Offset": -7},
   "encoding": {"x2": {"field": "t2"}, "y2": {"field": "p"}}},
  {"mark": {"type": "text", "color": "#ffffff", "font": "Open Sans", "fontSize": 11, "fontWeight": "bold", "align": "center", "baseline": "middle", "dx": 33, "yOffset": -15},
   "encoding": {"text": {"field": "label"}}}
 ]},
{"data": {"name": "tag_stop", "format": {"parse": {"t": "utc:'%Y-%m-%d %H:%M'", "t2": "utc:'%Y-%m-%d %H:%M'"}}},
 "layer": [
  {"mark": {"type": "rect", "fill": "#e91e63", "yOffset": 9.5, "y2Offset": 25.5},
   "encoding": {"x2": {"field": "t2"}, "y2": {"field": "p"}}},
  {"mark": {"type": "text", "color": "#ffffff", "font": "Open Sans", "fontSize": 11, "fontWeight": "bold", "align": "center", "baseline": "middle", "dx": 33, "yOffset": 17.5},
   "encoding": {"text": {"field": "label"}}}
 ]},
{"data": {"name": "tag_last", "format": {"parse": {"t": "utc:'%Y-%m-%d %H:%M'", "t2": "utc:'%Y-%m-%d %H:%M'"}}},
 "layer": [
  {"mark": {"type": "rect", "fill": "#ef5350", "yOffset": -10, "y2Offset": 22},
   "encoding": {"x2": {"field": "t2"}, "y2": {"field": "p"}}},
  {"mark": {"type": "text", "color": "#ffffff", "font": "Open Sans", "fontSize": 11, "fontWeight": "bold", "align": "center", "baseline": "middle", "dx": 33, "yOffset": -2},
   "encoding": {"text": {"field": "label"}}},
  {"mark": {"type": "text", "color": "#ffffff", "font": "Open Sans", "fontSize": 11, "fontWeight": "bold", "align": "center", "baseline": "middle", "dx": 33, "yOffset": 14},
   "encoding": {"text": {"field": "sub"}}}
 ]}
]
}
